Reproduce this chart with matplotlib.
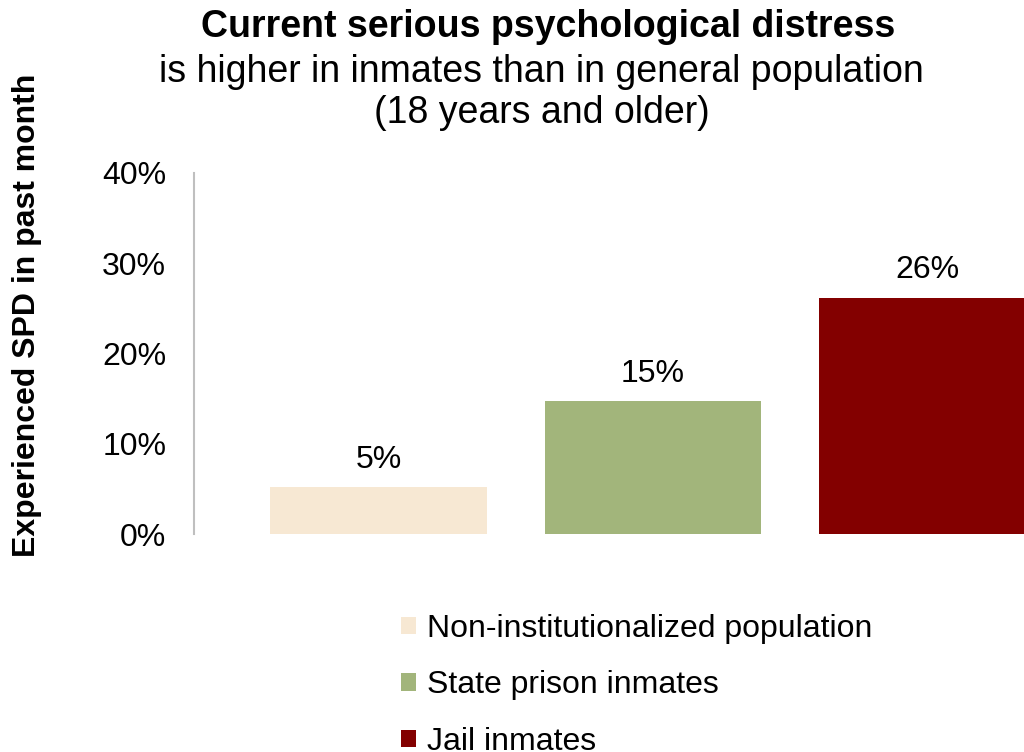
import numpy as np
import matplotlib
matplotlib.use("Agg")
import matplotlib.pyplot as plt
from matplotlib.patches import Patch

plt.rcParams['font.family'] = ['Liberation Sans', 'DejaVu Sans']

# Data
groups = ["Non-institutionalized population", "State prison inmates", "Jail inmates"]
spd_pct = [5.2, 14.7, 26.2]
bar_labels = ["5%", "15%", "26%"]
colors = ["#f7e8d3", "#a2b57b", "#830000"]
yticks = [0, 10, 20, 30, 40]

fig = plt.figure(figsize=(10.24, 7.52), dpi=100)
# axes reaches past the right edge, as in the original slide
ax = fig.add_axes([194 / 1024, 1 - 534 / 752, 918 / 1024, 361 / 752])

x = np.arange(len(groups))
bars = ax.bar(x, spd_pct, width=0.79, color=colors, clip_on=False)
for b, lab in zip(bars, bar_labels):
    ax.annotate(lab, (b.get_x() + b.get_width() / 2, b.get_height()),
                xytext=(0, 9), textcoords="offset points",
                ha="center", va="bottom", fontsize=23)

ax.set_xlim(-0.673, 2.673)
ax.set_ylim(0, 40)
ax.set_yticks(yticks)
ax.set_yticklabels([f"{t}%" for t in yticks], fontsize=23)
ax.tick_params(axis="y", length=0, pad=20)
ax.set_xticks([])
for s in ["top", "right", "bottom"]:
    ax.spines[s].set_visible(False)
ax.spines["left"].set_color("#bfbfbf")
ax.spines["left"].set_linewidth(1.5)

fig.text(27 / 1024, 1 - 315 / 752, "Experienced SPD in past month", rotation=90,
         ha="center", va="center", fontsize=23, fontweight="bold")

fig.text(0.535, 1 - 27 / 752, "Current serious psychological distress",
         ha="center", va="center", fontsize=27, fontweight="bold")
fig.text(0.529, 1 - 72 / 752, "is higher in inmates than in general population",
         ha="center", va="center", fontsize=27)
fig.text(0.529, 1 - 113 / 752, "(18 years and older)",
         ha="center", va="center", fontsize=27)

handles = [Patch(facecolor=c, edgecolor="none") for c in colors]
fig.legend(handles, groups, loc="upper left", bbox_to_anchor=(372 / 1024, 1 - 585 / 752),
           frameon=False, fontsize=23, handlelength=0.47, handleheight=0.47,
           handletextpad=0.34, labelspacing=0.83)

fig.savefig("out.png", dpi=100)
